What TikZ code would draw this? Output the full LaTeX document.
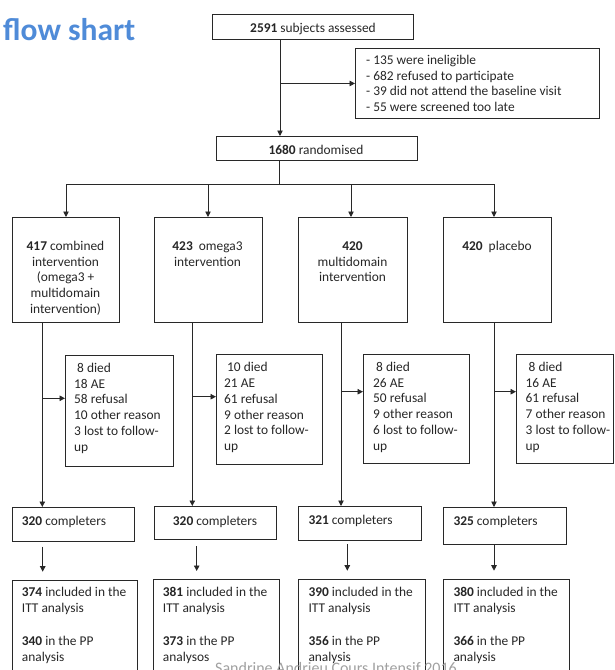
\documentclass[tikz,border=0pt]{standalone}
\usepackage{fontspec}
\setmainfont{Carlito}
\usetikzlibrary{arrows.meta}
\definecolor{titleblue}{RGB}{79,139,216}
\definecolor{linec}{RGB}{40,40,40}
\definecolor{footgray}{RGB}{160,160,160}
\begin{document}
\begin{tikzpicture}[x=1pt,y=-1pt,
  box/.style={draw=linec, line width=0.9pt, anchor=north west, inner sep=0pt},
  txt/.style={font=\fontsize{13.4}{15.8}\selectfont, inner sep=0pt, text=black!85},
  mtxt/.style={txt, yshift=11.06pt},
  arr/.style={draw=linec, line width=0.9pt, -{Triangle[length=5.5pt,width=5.5pt]}},
  ln/.style={draw=linec, line width=0.9pt}]
\useasboundingbox (0,0) rectangle (614,670);
\clip (0,0) rectangle (614,670);
% title
\node[inner sep=0pt, anchor=base west, font=\fontsize{31.5}{36}\selectfont\bfseries, text=titleblue] (title) at (3,40.5) {flow shart};
% boxes
\node[box, minimum width=201pt, minimum height=25pt] (s) at (212,14) {};
\node[box, minimum width=244pt, minimum height=70pt] (ex) at (355,48) {};
\node[box, minimum width=201pt, minimum height=24pt] (r) at (216,136) {};
\node[box, minimum width=107pt, minimum height=105pt] (g1) at (12,217) {};
\node[box, minimum width=108pt, minimum height=105pt] (g2) at (154,217) {};
\node[box, minimum width=109pt, minimum height=105pt] (g3) at (298,217) {};
\node[box, minimum width=108pt, minimum height=105pt] (g4) at (443,217) {};
\node[box, minimum width=108pt, minimum height=111pt] (d1) at (65,355) {};
\node[box, minimum width=106pt, minimum height=110pt] (d2) at (216,354) {};
\node[box, minimum width=106pt, minimum height=109pt] (d3) at (363,354) {};
\node[box, minimum width=97pt, minimum height=109pt] (d4) at (516,354) {};
\node[box, minimum width=122pt, minimum height=34pt] (c1) at (12,507) {};
\node[box, minimum width=122pt, minimum height=33pt] (c2) at (154,506) {};
\node[box, minimum width=123pt, minimum height=34pt] (c3) at (298,506) {};
\node[box, minimum width=123pt, minimum height=37pt] (c4) at (443,507) {};
\node[box, minimum width=125pt, minimum height=120pt] (f1) at (12,580) {};
\node[box, minimum width=126pt, minimum height=120pt] (f2) at (153,579) {};
\node[box, minimum width=127pt, minimum height=120pt] (f3) at (298,579) {};
\node[box, minimum width=126pt, minimum height=120pt] (f4) at (443,579) {};
% texts
\node[txt, anchor=base] (st) at (313,32) {\textbf{2591} subjects assessed};
\node[mtxt, anchor=north west, align=left] (ext) at (366,64) {\strut- 135 were ineligible\\- 682 refused to participate\\- 39 did not attend the baseline visit\\- 55 were screened too late};
\node[txt, anchor=base] (rt) at (316,154) {\textbf{1680} randomised};
\node[mtxt, anchor=north, align=center] (g1t) at (65.5,250) {\strut\textbf{417} combined\\intervention\\(omega3 +\\multidomain\\intervention)};
\node[mtxt, anchor=north, align=center] (g2t) at (207.5,250) {\strut\textbf{423}\ \ omega3\\intervention};
\node[mtxt, anchor=north, align=center] (g3t) at (352.5,250) {\strut\textbf{420}\\multidomain\\intervention};
\node[txt, anchor=base] (g4t) at (497,250) {\textbf{420}\ \ placebo};
\node[mtxt, anchor=north west, align=left] (d1t) at (74,372) {\strut\hspace*{3pt}8 died\\18 AE\\58 refusal\\10 other reason\\3 lost to follow-\\up};
\node[mtxt, anchor=north west, align=left] (d2t) at (224,371.5) {\strut\hspace*{3pt}10 died\\21 AE\\61 refusal\\9 other reason\\2 lost to follow-\\up};
\node[mtxt, anchor=north west, align=left] (d3t) at (373,371) {\strut\hspace*{3pt}8 died\\26 AE\\50 refusal\\9 other reason\\6 lost to follow-\\up};
\node[mtxt, anchor=north west, align=left] (d4t) at (525.5,371) {\strut\hspace*{3pt}8 died\\16 AE\\61 refusal\\7 other reason\\3 lost to follow-\\up};
\node[txt, anchor=base west] (c1t) at (21.7,525) {\textbf{320} completers};
\node[txt, anchor=base] (c2t) at (215,525) {\textbf{320} completers};
\node[txt, anchor=base west] (c3t) at (308.3,524.5) {\textbf{321} completers};
\node[txt, anchor=base west] (c4t) at (453.3,525) {\textbf{325} completers};
\node[mtxt, anchor=north west, align=left] (f1t) at (21.7,596) {\strut\textbf{374} included in the\\ITT analysis\\[17.5pt]\textbf{340} in the PP\\analysis};
\node[mtxt, anchor=north west, align=left] (f2t) at (162.7,596) {\strut\textbf{381} included in the\\ITT analysis\\[17.5pt]\textbf{373} in the PP\\analysos};
\node[mtxt, anchor=north west, align=left] (f3t) at (308.3,596) {\strut\textbf{390} included in the\\ITT analysis\\[17.5pt]\textbf{356} in the PP\\analysis};
\node[mtxt, anchor=north west, align=left] (f4t) at (453.3,596) {\strut\textbf{380} included in the\\ITT analysis\\[17.5pt]\textbf{366} in the PP\\analysis};
% connectors
\coordinate (ax) at (280,0);
\draw[arr] (s.south -| ax) -- (r.north -| ax);
\draw[arr] (ex.west -| ax) -- (ex.west);
\coordinate (sp) at (279,184);
\coordinate (h1) at (66,184);
\coordinate (h2) at (208,184);
\coordinate (h3) at (351,184);
\coordinate (h4) at (494,184);
\draw[ln] (r.south -| sp) -- (sp);
\draw[ln] (h1) -- (h4);
\draw[arr] (h1) -- (g1.north -| h1);
\draw[arr] (h2) -- (g2.north -| h2);
\draw[arr] (h3) -- (g3.north -| h3);
\draw[arr] (h4) -- (g4.north -| h4);
\coordinate (v1) at (42.3,398.3);
\coordinate (v2) at (192.3,396.7);
\coordinate (v3) at (341,391.7);
\coordinate (v4) at (494,391.7);
\draw[arr] (g1.south -| v1) -- (c1.north -| v1);
\draw[arr] (g2.south -| v2) -- (c2.north -| v2);
\draw[arr] (g3.south -| v3) -- (c3.north -| v3);
\draw[arr] (g4.south -| v4) -- (c4.north -| v4);
\draw[arr] (v1) -- (v1 -| d1.west);
\draw[arr] (v2) -- (v2 -| d2.west);
\draw[arr] (v3) -- (v3 -| d3.west);
\draw[arr] (v4) -- (v4 -| d4.west);
\coordinate (p1) at (42.7,546.7);  \coordinate (q1) at (42.7,571.7);
\coordinate (p2) at (196.7,546);   \coordinate (q2) at (196.7,571);
\coordinate (p3) at (347.3,544);   \coordinate (q3) at (347.3,570.7);
\coordinate (p4) at (494,544);     \coordinate (q4) at (494,570.7);
\draw[arr] (p1) -- (q1);
\draw[arr] (p2) -- (q2);
\draw[arr] (p3) -- (q3);
\draw[arr] (p4) -- (q4);
% footer
\node[inner sep=0pt, anchor=base west, font=\fontsize{16}{19}\selectfont, text=footgray] (foot) at (215,673) {Sandrine Andrieu Cours Intensif 2016};
\end{tikzpicture}
\end{document}
